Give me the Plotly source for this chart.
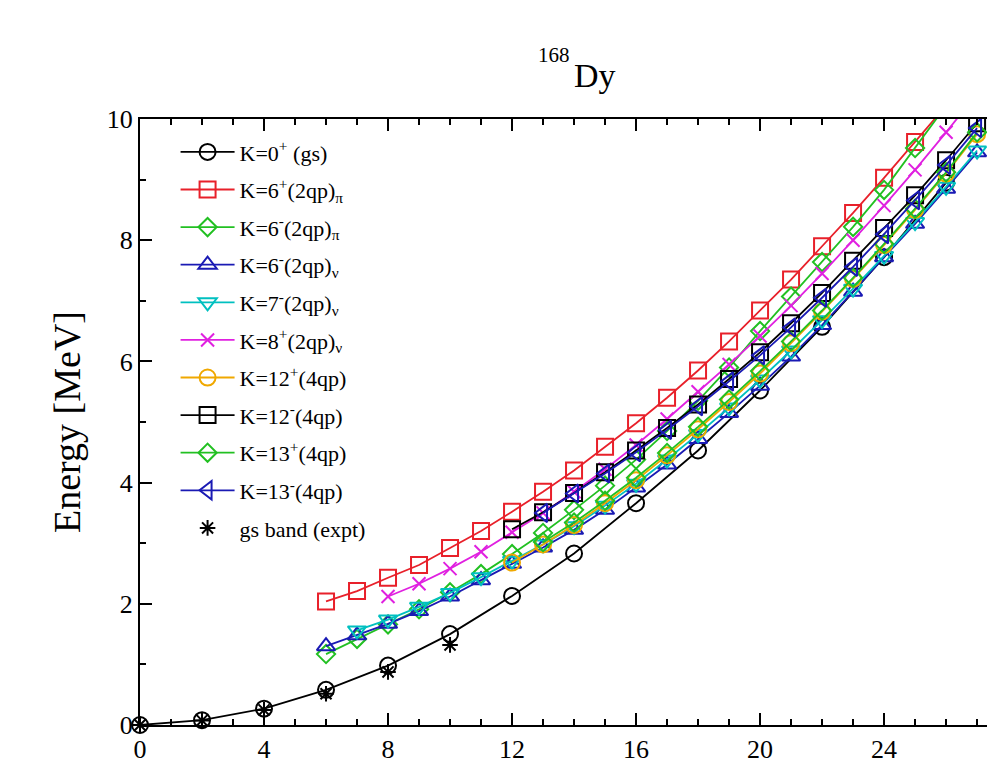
import plotly.graph_objects as go

FONT = "Liberation Serif"

# ---------------- data ----------------
gs_J = [0, 2, 4, 6, 8, 10, 12, 14, 16, 18, 20, 22, 24, 26]
gs_E = [0.0, 0.08, 0.27, 0.58, 0.98, 1.50, 2.13, 2.83, 3.66, 4.53, 5.52, 6.57, 7.72, 8.95]

k6p_J = list(range(6, 27))
k6p_E = [2.04, 2.21, 2.43, 2.64, 2.92, 3.20, 3.52, 3.85, 4.20, 4.59, 4.98, 5.40, 5.85,
         6.33, 6.84, 7.35, 7.90, 8.45, 9.03, 9.62, 10.22]

k6mpi_J = list(range(6, 27))
k6mpi_E = [1.17, 1.42, 1.66, 1.91, 2.19, 2.49, 2.82, 3.17, 3.55, 3.95, 4.38, 4.85, 5.35,
           5.90, 6.50, 7.07, 7.64, 8.22, 8.83, 9.52, 10.22]

k6mnu_J = list(range(6, 28))
k6mnu_E = [1.30, 1.48, 1.67, 1.88, 2.12, 2.39, 2.66, 2.93, 3.22, 3.55, 3.92, 4.30, 4.72,
           5.15, 5.60, 6.08, 6.60, 7.15, 7.72, 8.27, 8.85, 9.45]

k7m_J = list(range(7, 28))
k7m_E = [1.56, 1.74, 1.95, 2.18, 2.44, 2.71, 2.98, 3.28, 3.62, 3.98, 4.38, 4.80, 5.24,
         5.70, 6.18, 6.68, 7.20, 7.74, 8.30, 8.88, 9.48]

k8p_J = list(range(8, 28))
k8p_E = [2.12, 2.33, 2.58, 2.86, 3.18, 3.50, 3.85, 4.22, 4.62, 5.05, 5.50, 5.95, 6.42,
         6.92, 7.45, 8.00, 8.57, 9.16, 9.78, 10.42]

k12p_J = list(range(12, 28))
k12p_E = [2.68, 2.98, 3.30, 3.66, 4.04, 4.45, 4.88, 5.33, 5.80, 6.30, 6.82, 7.36, 7.92,
          8.50, 9.10, 9.75]

k12m_J = list(range(12, 28))
k12m_E = [3.23, 3.51, 3.83, 4.17, 4.53, 4.90, 5.29, 5.71, 6.15, 6.63, 7.13, 7.66, 8.20,
          8.74, 9.32, 9.93]

k13p_J = list(range(13, 28))
k13p_E = [3.02, 3.34, 3.70, 4.08, 4.49, 4.92, 5.37, 5.84, 6.33, 6.84, 7.38, 7.94, 8.52,
          9.12, 9.78]

k13m_J = list(range(13, 28))
k13m_E = [3.50, 3.82, 4.15, 4.50, 4.87, 5.26, 5.67, 6.10, 6.56, 7.05, 7.56, 8.10, 8.66,
          9.24, 9.85]

expt_J = [0, 2, 4, 6, 8, 10]
expt_E = [0.0, 0.076, 0.249, 0.516, 0.876, 1.322]

series = [
    ("K=0<sup>+</sup> (gs)", gs_J, gs_E, "#000000", "circle-open"),
    ("K=6<sup>+</sup>(2qp)<sub>π</sub>", k6p_J, k6p_E, "#e8202a", "square-open"),
    ("K=6<sup>-</sup>(2qp)<sub>π</sub>", k6mpi_J, k6mpi_E, "#22c022", "diamond-open"),
    ("K=6<sup>-</sup>(2qp)<sub>ν</sub>", k6mnu_J, k6mnu_E, "#1a1ab4", "triangle-up-open"),
    ("K=7<sup>-</sup>(2qp)<sub>ν</sub>", k7m_J, k7m_E, "#00c0c0", "triangle-down-open"),
    ("K=8<sup>+</sup>(2qp)<sub>ν</sub>", k8p_J, k8p_E, "#e020e0", "x-thin-open"),
    ("K=12<sup>+</sup>(4qp)", k12p_J, k12p_E, "#f0a800", "circle-open"),
    ("K=12<sup>-</sup>(4qp)", k12m_J, k12m_E, "#000000", "square-open"),
    ("K=13<sup>+</sup>(4qp)", k13p_J, k13p_E, "#22c022", "diamond-open"),
    ("K=13<sup>-</sup>(4qp)", k13m_J, k13m_E, "#1a1ab4", "triangle-left-open"),
]

fig = go.Figure()
for i, (name, xs, ys, col, sym) in enumerate(series):
    size = 16
    if sym.startswith("diamond"):
        size = 14
    if sym.startswith("x-thin"):
        size = 13
    fig.add_trace(go.Scatter(
        x=xs, y=ys, name=name, mode="lines+markers",
        line=dict(color=col, width=1.8),
        marker=dict(symbol=sym, size=size, color=col, line=dict(color=col, width=2)),
        legendgroup=f"g{i}", cliponaxis=(i != 0),
    ))

fig.add_trace(go.Scatter(
    x=expt_J, y=expt_E, name="gs band (expt)", mode="markers",
    marker=dict(symbol="asterisk-open", size=13, color="#000000",
                line=dict(color="#000000", width=2)),
    legendgroup="g10", cliponaxis=False,
))

L, T, B = 140, 119, 725
W, H = 987, 765

fig.update_layout(
    width=W, height=H,
    margin=dict(l=L, r=0, t=T, b=H - B, autoexpand=False),
    paper_bgcolor="white", plot_bgcolor="white",
    font=dict(family=FONT, color="black", size=24),
    showlegend=True,
    legend=dict(
        x=0.042, y=0.98, xanchor="left", yanchor="top",
        bgcolor="rgba(0,0,0,0)", borderwidth=0,
        font=dict(family=FONT, size=22, color="black"),
        tracegroupgap=6, itemwidth=54, itemsizing="trace",
    ),
    xaxis=dict(
        range=[0, 27.32], tickmode="linear", tick0=0, dtick=4,
        ticks="inside", ticklen=12, tickwidth=2, tickcolor="black",
        showline=True, linewidth=2, linecolor="black", mirror="ticks",
        showgrid=False, zeroline=False,
        tickfont=dict(family=FONT, size=26),
        minor=dict(ticks="inside", dtick=1, ticklen=6, tickwidth=2, tickcolor="black", showgrid=False),
    ),
    yaxis=dict(
        range=[0, 10], tickmode="linear", tick0=0, dtick=2,
        ticks="inside", ticklen=12, tickwidth=2, tickcolor="black",
        showline=True, linewidth=2, linecolor="black", mirror=False,
        showgrid=False, zeroline=False,
        tickfont=dict(family=FONT, size=26),
        minor=dict(ticks="inside", dtick=1, ticklen=6, tickwidth=2, tickcolor="black", showgrid=False),
        title=dict(text="Energy [MeV]", font=dict(family=FONT, size=38), standoff=14),
    ),
)

pw = W - L
def px_x(p):
    return (p - L) / pw

ph = B - T
def px_y(p):
    return (B - p) / ph

fig.add_annotation(text="168", x=px_x(572), y=px_y(69), xref="paper", yref="paper",
                   xanchor="right", yanchor="bottom", showarrow=False,
                   font=dict(family=FONT, size=21, color="black"))
fig.add_annotation(text="Dy", x=px_x(572), y=px_y(96), xref="paper", yref="paper",
                   xanchor="left", yanchor="bottom", showarrow=False,
                   font=dict(family=FONT, size=34, color="black"))
fig.add_annotation(text="J", x=px_x(576), y=px_y(758), xref="paper", yref="paper",
                   xanchor="center", yanchor="top", showarrow=False,
                   font=dict(family=FONT, size=38, color="black"))

fig.write_html("out.html")
